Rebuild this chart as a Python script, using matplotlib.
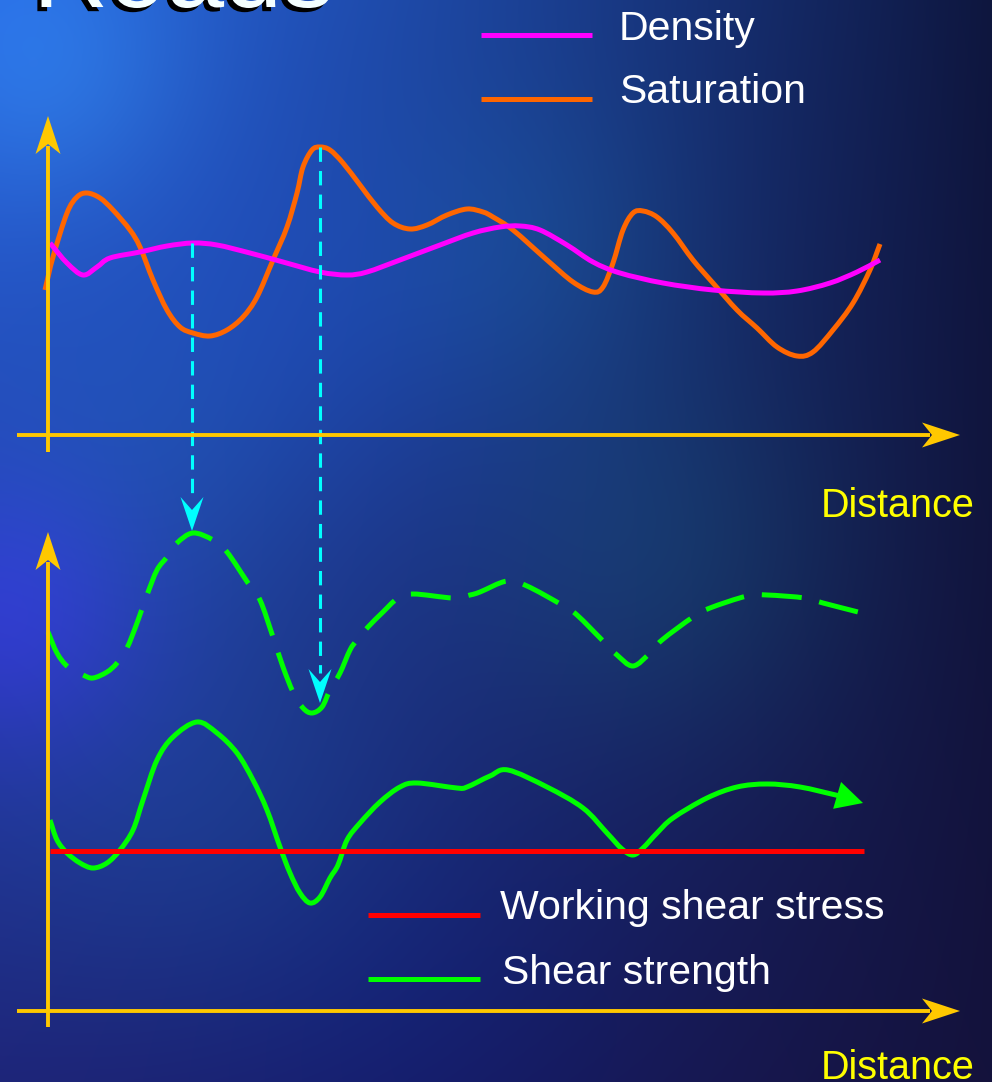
import numpy as np
import matplotlib
matplotlib.use("Agg")
import matplotlib.pyplot as plt
from matplotlib.patches import Polygon, PathPatch
from matplotlib.path import Path
import matplotlib.patheffects as pe

W, H = 992, 1082

# ---------------- data (distance -> value) ----------------
saturation_x = [45, 53, 67, 77, 87, 100, 113, 130, 140, 153, 167, 180, 193, 210, 227, 243,
                257, 273, 287, 297, 303, 312, 320, 330, 343, 360, 377, 393, 410, 427, 447,
                467, 483, 493, 513, 547, 573, 593, 603, 613, 623, 633, 643, 657, 673, 693,
                713, 737, 757, 777, 797, 813, 833, 853, 870, 880]
saturation_y = [290, 257, 213, 197, 193, 198, 210, 230, 247, 280, 310, 327, 333, 336, 330, 317,
                297, 260, 227, 193, 167, 150, 147, 150, 163, 185, 207, 223, 229, 225, 215,
                209, 212, 217, 230, 260, 282, 292, 287, 263, 230, 213, 211, 217, 233, 260,
                283, 310, 328, 347, 356, 352, 330, 303, 270, 244]

density_x = [50, 67, 83, 97, 110, 140, 167, 193, 217, 250, 283, 320, 347, 367, 400, 440,
             473, 500, 520, 540, 567, 593, 620, 663, 713, 763, 797, 830, 857, 880]
density_y = [243, 263, 275, 267, 258, 252, 246, 243, 245, 253, 262, 272, 275, 272, 260, 245,
             233, 227, 226, 230, 245, 262, 273, 283, 290, 293, 291, 283, 272, 260]

strength_dry_x = [48, 57, 68, 83, 93, 107, 117, 127, 137, 147, 157, 167, 177, 193, 213, 227,
                  248, 260, 273, 283, 293, 303, 312, 322, 330, 340, 350, 357, 368, 383, 397,
                  413, 453, 470, 480, 507, 527, 562, 577, 605, 617, 633, 650, 662, 693, 710,
                  747, 767, 805, 823, 862]
strength_dry_y = [632, 653, 667, 675, 678, 672, 663, 648, 623, 595, 570, 557, 543, 533, 540, 552,
                  583, 600, 637, 667, 692, 708, 713, 707, 690, 673, 650, 640, 627, 612, 599,
                  594, 598, 595, 592, 581, 586, 605, 615, 643, 655, 666, 653, 640, 617, 608,
                  596, 595, 598, 603, 613]

strength_x = [50, 57, 67, 80, 93, 107, 120, 133, 143, 157, 173, 197, 217, 237, 253, 267,
              280, 290, 300, 310, 320, 330, 338, 347, 360, 380, 400, 417, 457, 467, 490,
              508, 547, 583, 607, 622, 633, 643, 657, 673, 707, 737, 767, 800, 840]
strength_y = [820, 840, 853, 863, 868, 863, 850, 830, 800, 760, 737, 722, 733, 753, 780, 810,
              847, 873, 893, 903, 897, 878, 865, 840, 823, 802, 787, 783, 788, 787, 776,
              770, 787, 808, 833, 849, 855, 848, 833, 818, 798, 787, 784, 787, 796]

working_stress_x = [50, 864]
working_stress_y = [851, 851]

# points where property changes are projected down to the strength curve
link_x = [192, 320]
link_top_y = [243, 147]
link_tip_y = [531, 703]

top_legend_labels = ["Density", "Saturation"]
bottom_legend_labels = ["Working shear stress", "Shear strength"]
axis_label = "Distance"
title_text = "Roads"

# ---------------- styling ----------------
YEL = "#FFC800"
MAG = "#FF00FF"
ORA = "#FF6600"
GRN = "#00FF00"
RED = "#FF0000"
CYA = "#00FFFF"
FONT = ["Liberation Sans", "DejaVu Sans"]

fig = plt.figure(figsize=(W / 100, H / 100), dpi=100)
ax = fig.add_axes([0, 0, 1, 1])
ax.set_xlim(0, W)
ax.set_ylim(H, 0)
ax.axis("off")

# ---------------- background (smooth blue texture) ----------------
yy, xx = np.mgrid[0:H:3, 0:W:3].astype(float)
u = (xx / W) ** 1.2
v = yy / H
TL = np.array([38, 98, 220.0])
TR = np.array([14, 22, 62.0])
BL = np.array([30, 36, 120.0])
BR = np.array([20, 18, 60.0])
img = (TL * ((1 - u) * (1 - v))[..., None] + TR * (u * (1 - v))[..., None]
       + BL * ((1 - u) * v)[..., None] + BR * (u * v)[..., None])
blobs = [((50, 70), 100, (8, 25, 18)),
         ((10, 620), 100, (15, -5, 40)),
         ((320, 330), 140, (0, 5, 15)),
         ((660, 560), 130, (0, 18, 8)),
         ((200, 820), 150, (0, 12, 10)),
         ((540, 250), 120, (0, 15, 10)),
         ((420, 1030), 160, (-5, 0, 10)),
         ((150, 470), 120, (0, 10, 5))]
for (cx, cy), s, col in blobs:
    g = np.exp(-((xx - cx) ** 2 + (yy - cy) ** 2) / (2 * s * s))
    img += g[..., None] * np.array(col, float)
img = np.clip(img, 0, 255) / 255.0
ax.imshow(img, extent=(0, W, H, 0), interpolation="bicubic", zorder=0, aspect="auto")


def smooth_path(xs, ys):
    """Catmull-Rom curve through the points, expressed as cubic Bezier segments."""
    p = np.column_stack([xs, ys]).astype(float)
    ext = np.vstack([2 * p[0] - p[1], p, 2 * p[-1] - p[-2]])
    verts = [p[0]]
    codes = [Path.MOVETO]
    for i in range(1, len(ext) - 2):
        p0, p1, p2, p3 = ext[i - 1], ext[i], ext[i + 1], ext[i + 2]
        verts += [p1 + (p2 - p0) / 6.0, p2 - (p3 - p1) / 6.0, p2]
        codes += [Path.CURVE4] * 3
    return Path(verts, codes)


def curve(xs, ys, color, z, dashes=None):
    ls = "-" if dashes is None else (0, dashes)
    patch = PathPatch(smooth_path(xs, ys), fill=False, ec=color, lw=3.6, ls=ls,
                      capstyle="butt", joinstyle="round", zorder=z)
    ax.add_patch(patch)


def head(tip, direction, length, half_w, notch, color, z):
    tip = np.array(tip, float)
    d = np.array(direction, float)
    d /= np.linalg.norm(d)
    n = np.array([-d[1], d[0]])
    base = tip - d * length
    verts = [tip, base + n * half_w, tip - d * (length - notch), base - n * half_w]
    ax.add_patch(Polygon(verts, closed=True, fc=color, ec="none", zorder=z))


# ---------------- title (cut by top edge) ----------------
ax.text(33, 7, title_text, fontsize=75, color="#F4FFFF", family=FONT,
        va="baseline", ha="left", zorder=1,
        path_effects=[pe.withSimplePatchShadow(offset=(-3, -3), shadow_rgbFace="black",
                                               alpha=1.0)])

# ---------------- top panel ----------------
curve(saturation_x, saturation_y, ORA, 3)
curve(density_x, density_y, MAG, 4)

# axes of the panels
for (y_axis_bot, y_axis_tip, x_axis_y) in [(452, 116, 435), (1027, 532, 1011)]:
    ax.plot([48, 48], [y_axis_bot, y_axis_tip + 30], color=YEL, lw=2.8, zorder=6,
            solid_capstyle="butt")
    head((48, y_axis_tip), (0, -1), 38, 12.5, 10, YEL, 6)
    ax.plot([17, 930], [x_axis_y, x_axis_y], color=YEL, lw=2.8, zorder=6,
            solid_capstyle="butt")
    head((960, x_axis_y), (1, 0), 38, 12.5, 10, YEL, 6)

ax.text(975, 517, axis_label, fontsize=28.5, color="#FFFF00", family=FONT,
        ha="right", va="baseline", zorder=7)
ax.text(975, 1079, axis_label, fontsize=28.5, color="#FFFF00", family=FONT,
        ha="right", va="baseline", zorder=7)

# top legend
ax.plot([481, 592], [35, 35], color=MAG, lw=3.6, solid_capstyle="butt", zorder=5)
ax.plot([481, 592], [99, 99], color=ORA, lw=3.6, solid_capstyle="butt", zorder=5)
ax.text(619, 40, top_legend_labels[0], fontsize=29.5, color="white", family=FONT,
        ha="left", va="baseline", zorder=7)
ax.text(619, 103, top_legend_labels[1], fontsize=29.5, color="white", family=FONT,
        ha="left", va="baseline", zorder=7)

# ---------------- projection arrows ----------------
for lx, ty, tp in zip(link_x, link_top_y, link_tip_y):
    ax.plot([lx, lx], [ty, tp - 30], color=CYA, lw=2.2, dashes=(4.7, 3.0),
            dash_capstyle="butt", zorder=5)
    head((lx, tp), (0, 1), 34, 11.5, 13, CYA, 5)

# ---------------- bottom panel ----------------
curve(strength_dry_x, strength_dry_y, GRN, 5.5, dashes=(8, 3.6))
curve(strength_x, strength_y, GRN, 4)
head((863, 803), (25.5, 7.5), 27, 14, 0, GRN, 4)
ax.plot(working_stress_x, working_stress_y, color=RED, lw=3.6,
        solid_capstyle="butt", zorder=4.5)

# bottom legend
ax.plot([368, 480], [915, 915], color=RED, lw=3.6, solid_capstyle="butt", zorder=5)
ax.plot([368, 480], [979, 979], color=GRN, lw=3.6, solid_capstyle="butt", zorder=5)
ax.text(500, 919, bottom_legend_labels[0], fontsize=29.5, color="white", family=FONT,
        ha="left", va="baseline", zorder=7)
ax.text(502, 984, bottom_legend_labels[1], fontsize=29.5, color="white", family=FONT,
        ha="left", va="baseline", zorder=7)

fig.savefig("out.png", dpi=100)
